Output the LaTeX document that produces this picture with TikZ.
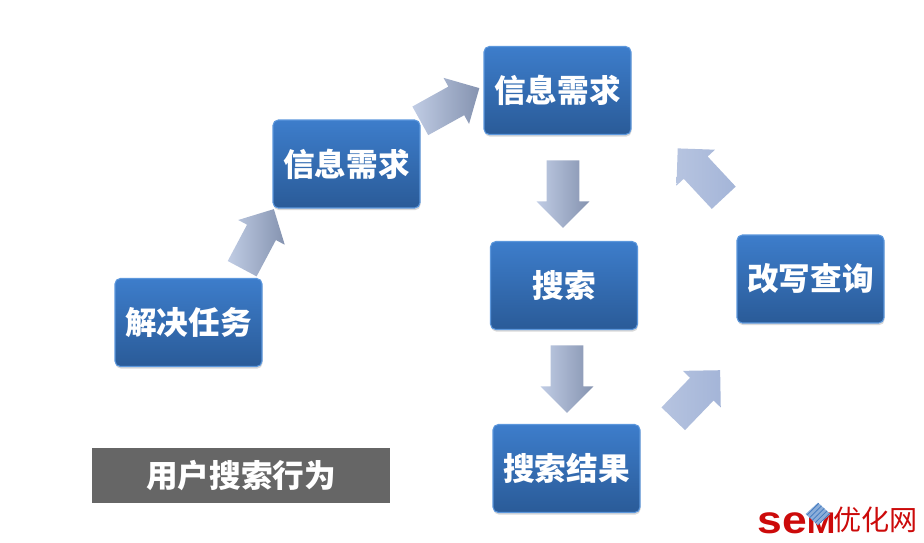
\documentclass[tikz,border=0pt]{standalone}
\usepackage{fontspec}
\newfontfamily\cjk{Noto Sans CJK SC}
\setmainfont{Liberation Sans}
\usetikzlibrary{shapes.geometric, shapes.arrows, shadows, patterns}
\definecolor{boxtop}{HTML}{3D7DCB}
\definecolor{boxbottom}{HTML}{2A5B98}
\definecolor{boxedge}{HTML}{5C97DC}
\definecolor{arrowlight}{HTML}{C0CCE4}
\definecolor{arrowdark}{HTML}{8593B0}
\definecolor{arrowflat}{HTML}{A4B5D8}
\definecolor{logored}{HTML}{CC0A0A}
\definecolor{logoblue}{HTML}{3F78C0}

\begin{document}
\begin{tikzpicture}[
    x=0.02cm, y=-0.02cm,
    stepbox/.style={
        rectangle,
        rounded corners=3pt,
        draw=boxedge,
        line width=0.6pt,
        top color=boxtop,
        bottom color=boxbottom,
        drop shadow={shadow xshift=0.3pt, shadow yshift=-1.2pt, opacity=0.3},
        minimum width=2.94cm,
        minimum height=1.76cm,
        inner sep=0pt,
        text=white,
        font=\cjk\bfseries\fontsize{18pt}{20pt}\selectfont,
    },
    blockarrow/.style={
        single arrow,
        anchor=tail,
        inner xsep=0pt,
        inner ysep=0pt,
        text height=0.64cm,
        text depth=0pt,
        single arrow head extend=0.2cm,
        single arrow tip angle=90,
        single arrow head indent=0pt,
        minimum height=1.35cm,
        minimum width=1.04cm,
        draw=none,
        left color=arrowlight,
        right color=arrowdark,
    },
    flatarrow/.style={
        blockarrow,
        left color=arrowflat!80!white,
        right color=arrowflat,
    }
]
\useasboundingbox (0,0) rectangle (924,542);

\node[stepbox] (task) at (188.5,322.5) {解决任务};
\node[stepbox] (needA) at (346.5,164) {信息需求};
\node[stepbox] (needB) at (557.5,90.5) {信息需求};
\node[stepbox] (search) at (564,285.5) {搜索};
\node[stepbox] (result) at (566.5,468.5) {搜索结果};
\node[stepbox] (rewrite) at (810.5,279) {\raisebox{-3pt}{改写查询}};

\node[blockarrow, rotate=62] (arrowA) at (242,269) {};
\node[blockarrow, rotate=29] (arrowB) at (420,121) {};
\node[blockarrow, rotate=-90] (arrowC) at (563,160) {};
\node[blockarrow, rotate=-90] (arrowD) at (567,345) {};
\node[flatarrow, rotate=46] (arrowE) at (673,419) {};
\node[flatarrow, rotate=133] (arrowF) at (724,198) {};

\node[rectangle, fill=black!60, minimum width=5.96cm, minimum height=1.1cm, inner sep=0pt, text=white,
    font=\cjk\bfseries\fontsize{18pt}{20pt}\selectfont] (title) at (241,475.5) {用户搜索行为};

\node[inner sep=0pt, text=logored, font=\bfseries\fontsize{22pt}{24pt}\selectfont, xscale=1.15, anchor=base west] (logotext) at (757,533)
    {se{\fontsize{17pt}{18pt}\selectfont M}};
\node[diamond, inner sep=0pt, minimum width=0.5cm, minimum height=0.46cm, preaction={fill=logoblue!60},
    pattern=north east lines, pattern color=logoblue] (logomark) at (818,514) {};
\node[inner sep=0pt, text=logored, font=\cjk\fontsize{16pt}{18pt}\selectfont, anchor=base west] (logoname) at (833,530) {优化网};
\end{tikzpicture}
\end{document}
